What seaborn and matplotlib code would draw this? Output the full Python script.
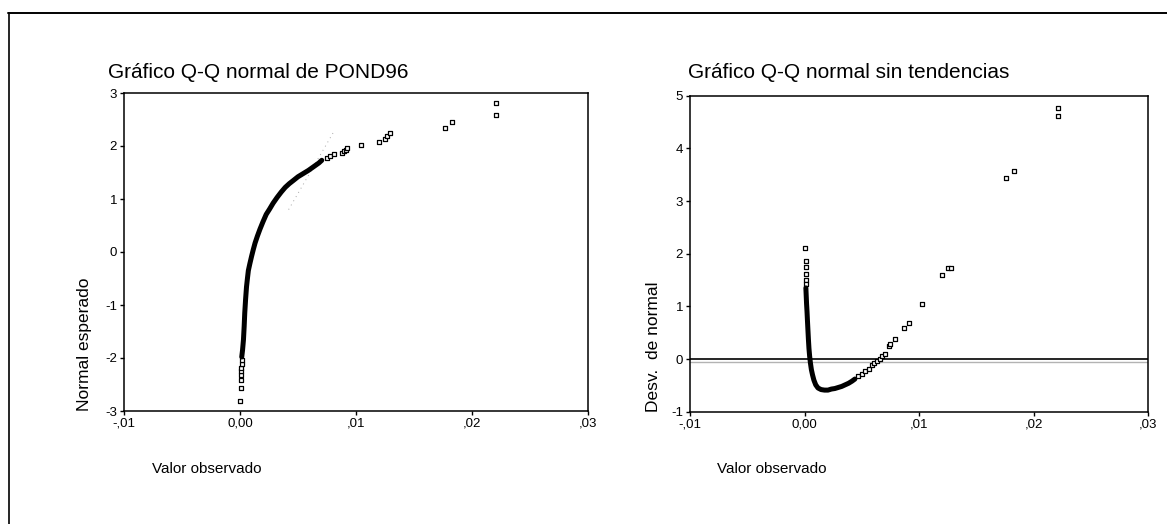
import seaborn as sns
import pandas as pd
import matplotlib.pyplot as plt

# --- Q-Q normal (left panel) ---
qq_dense_x = [0.00015, 0.00022, 0.00030, 0.00036, 0.00041, 0.00048, 0.00056, 0.00064, 0.00072, 0.00085,
              0.00100, 0.00115, 0.00130, 0.00150, 0.00172, 0.00198, 0.00226, 0.00255, 0.00285, 0.00320,
              0.00355, 0.00390, 0.00425, 0.00460, 0.00500, 0.00545, 0.00590, 0.00635, 0.00680, 0.00705]
qq_dense_z = [-1.98, -1.85, -1.65, -1.40, -1.15, -0.90, -0.66, -0.50, -0.35, -0.22,
              -0.08, 0.05, 0.17, 0.30, 0.43, 0.57, 0.71, 0.81, 0.92, 1.03,
              1.13, 1.22, 1.29, 1.35, 1.42, 1.48, 1.54, 1.61, 1.68, 1.73]
qq_sparse_x = [0.0000, 0.0001, 0.0001, 0.0001, 0.00012, 0.00012, 0.00014, 0.00015,
               0.0075, 0.0078, 0.0081, 0.0088, 0.0090, 0.0091, 0.0092, 0.0104, 0.0120,
               0.0125, 0.0127, 0.0129, 0.0177, 0.0183, 0.0221, 0.0221]
qq_sparse_z = [-2.82, -2.57, -2.42, -2.33, -2.25, -2.18, -2.11, -2.04,
               1.78, 1.82, 1.84, 1.86, 1.90, 1.93, 1.96, 2.02, 2.07,
               2.13, 2.19, 2.25, 2.34, 2.45, 2.59, 2.81]
ref_mean, ref_sd = 0.00207, 0.00265
ref_z = [0.8, 2.3]   # part of the reference line that survives in the scan

# --- detrended Q-Q (right panel) ---
dt_dense_x = [0.00012, 0.00015, 0.00018, 0.00022, 0.00026, 0.00030, 0.00034, 0.00039, 0.00045, 0.00052,
              0.00060, 0.00070, 0.00082, 0.00098, 0.00118, 0.00145, 0.00175, 0.00205, 0.00235, 0.00265,
              0.00295, 0.00325, 0.00355, 0.00385, 0.00415, 0.00440]
dt_dense_dev = [1.35, 1.20, 1.05, 0.90, 0.72, 0.55, 0.38, 0.20, 0.05, -0.08,
                -0.20, -0.30, -0.40, -0.49, -0.55, -0.58, -0.59, -0.59, -0.57, -0.56,
                -0.54, -0.52, -0.49, -0.46, -0.42, -0.38]
dt_sparse_x = [0.0000, 0.0001, 0.0001, 0.0001, 0.0001, 0.0001,
               0.0047, 0.0050, 0.0053, 0.0056, 0.0059, 0.0061, 0.0063, 0.0066, 0.0068, 0.0070,
               0.0074, 0.0075, 0.0079, 0.0087, 0.0091, 0.0103, 0.0120, 0.0125, 0.0128,
               0.0176, 0.0183, 0.0221, 0.0221]
dt_sparse_dev = [2.11, 1.87, 1.75, 1.62, 1.50, 1.42,
                 -0.33, -0.28, -0.23, -0.18, -0.12, -0.07, -0.04, 0.00, 0.05, 0.10,
                 0.25, 0.28, 0.38, 0.58, 0.68, 1.05, 1.59, 1.73, 1.73,
                 3.43, 3.57, 4.61, 4.76]

x_ticks = [-0.01, 0.0, 0.01, 0.02, 0.03]
x_labels = ['-,01', '0,00', ',01', ',02', ',03']

sns.set_theme(style="white")
plt.rcParams['font.family'] = ['Liberation Sans', 'DejaVu Sans']
plt.rcParams['axes.unicode_minus'] = False

W, H = 1167, 524
fig = plt.figure(figsize=(W / 100, H / 100), dpi=100)
ax1 = fig.add_axes([124 / W, 1 - 411 / H, 464 / W, 318 / H])
ax2 = fig.add_axes([690 / W, 1 - 411.7 / H, 458 / W, 316 / H])

mk = dict(marker='s', s=12, facecolor='white', edgecolor='black', linewidth=0.9, zorder=3)

# left
ref = pd.DataFrame({'z': ref_z})
ref['x'] = ref_mean + ref_sd * ref['z']
ax1.plot(ref['x'], ref['z'], color='0.65', lw=0.7, ls=(0, (1, 4)))
dense1 = pd.DataFrame({'x': qq_dense_x, 'z': qq_dense_z})
sns.scatterplot(data=pd.DataFrame({'x': qq_sparse_x, 'z': qq_sparse_z}), x='x', y='z', ax=ax1, **mk)
sns.lineplot(data=dense1, x='x', y='z', sort=False, estimator=None, color='black', lw=3.6, ax=ax1, zorder=4)
ax1.set_ylim(-3, 3)
ax1.set_yticks([-3, -2, -1, 0, 1, 2, 3])

# right
ax2.axhline(0, color='black', lw=1.2, zorder=1)
ax2.axhline(-0.06, color='0.7', lw=1.0, zorder=1)
dense2 = pd.DataFrame({'x': dt_dense_x, 'dev': dt_dense_dev})
sns.scatterplot(data=pd.DataFrame({'x': dt_sparse_x, 'dev': dt_sparse_dev}), x='x', y='dev', ax=ax2, **mk)
sns.lineplot(data=dense2, x='x', y='dev', sort=False, estimator=None, color='black', lw=3.6, ax=ax2, zorder=4)
ax2.set_ylim(-1, 5)
ax2.set_yticks([-1, 0, 1, 2, 3, 4, 5])

panels = [(ax1, 'Normal esperado', 'Gráfico Q-Q normal de POND96', 85, 108, 152),
          (ax2, 'Desv.  de normal', 'Gráfico Q-Q normal sin tendencias', 654, 688, 717)]
for ax, ylab, title, ylx, tx, xlx in panels:
    ax.set_xlim(-0.01, 0.03)
    ax.set_xticks(x_ticks)
    ax.set_xticklabels(x_labels)
    ax.tick_params(direction='out', length=3, width=1, color='black', labelsize=9.5, pad=2,
                   bottom=True, left=True, labelcolor='black')
    for sp in ax.spines.values():
        sp.set_color('black')
        sp.set_linewidth(1.1)
    pos = ax.get_position()
    ax.set_ylabel(ylab, fontsize=12.5, loc='bottom', color='black', va='center')
    ax.yaxis.set_label_coords((ylx - pos.x0 * W) / (pos.width * W), 0)
    ax.set_xlabel('Valor observado', fontsize=11, loc='left', color='black')
    ax.xaxis.set_label_coords((xlx - pos.x0 * W) / (pos.width * W), -0.16)
    fig.text(tx / W, 1 - 72 / H, title, fontsize=15, ha='left', va='center', color='black')

# scanned page frame
fig.add_artist(plt.Line2D([8 / W, 1], [1 - 12.5 / H] * 2, transform=fig.transFigure, color='black', lw=1.4))
fig.add_artist(plt.Line2D([8.5 / W] * 2, [0, 1 - 12.5 / H], transform=fig.transFigure, color='black', lw=1.2))

plt.savefig('out.png', dpi=100)
